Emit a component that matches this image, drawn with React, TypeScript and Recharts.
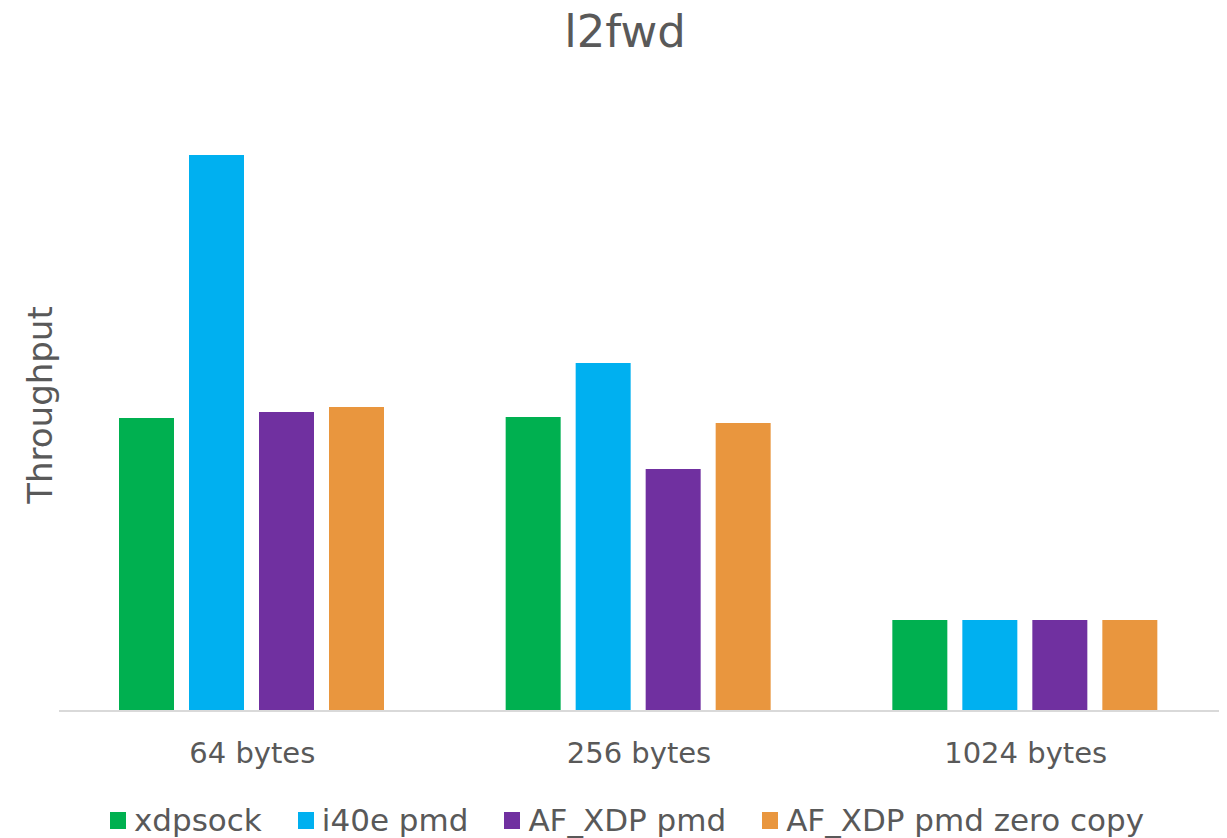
import { BarChart, Bar, XAxis, YAxis, Legend, Customized } from "recharts";

const categories = ["64 bytes", "256 bytes", "1024 bytes"];
const xdpsock = [293, 294, 91];
const i40ePmd = [556, 348, 91];
const afXdpPmd = [299, 242, 91];
const afXdpZeroCopy = [304, 288, 91];

const seriesNames = ["xdpsock", "i40e pmd", "AF_XDP pmd", "AF_XDP pmd zero copy"];
const seriesColors = ["#00B050", "#00B0F0", "#7030A0", "#E9963E"];

const data = categories.map((name, i) => ({
  name,
  s0: xdpsock[i],
  s1: i40ePmd[i],
  s2: afXdpPmd[i],
  s3: afXdpZeroCopy[i],
}));

const textColor = "#595959";

function LegendBox() {
  return (
    <div
      style={{
        display: "flex",
        alignItems: "center",
        gap: 36,
        fontSize: 31,
        color: textColor,
        paddingLeft: 110,
        whiteSpace: "nowrap",
      }}
    >
      {seriesNames.map((n, i) => (
        <div key={n} style={{ display: "flex", alignItems: "center" }}>
          <span
            style={{
              width: 16,
              height: 17,
              background: seriesColors[i],
              marginRight: 8,
              display: "inline-block",
            }}
          />
          <span>{n}</span>
        </div>
      ))}
    </div>
  );
}

function Labels() {
  return (
    <g>
      <text x={625} y={47} textAnchor="middle" fontSize={45} fill={textColor}>
        l2fwd
      </text>
      <text
        x={52}
        y={405}
        textAnchor="middle"
        fontSize={34}
        fill={textColor}
        transform="rotate(-90 52 405)"
      >
        Throughput
      </text>
    </g>
  );
}

export default function App() {
  return (
    <div
      style={{
        position: "absolute",
        left: 0,
        top: 0,
        width: 1227,
        height: 838,
        background: "#fff",
        fontFamily: "'DejaVu Sans', sans-serif",
      }}
    >
      <BarChart
        width={1227}
        height={838}
        data={data}
        margin={{ top: 111, right: 8, bottom: 67, left: 59 }}
        barCategoryGap={60}
        barGap={15}
      >
        <XAxis
          dataKey="name"
          height={60}
          tickLine={false}
          tickSize={0}
          tickMargin={31}
          axisLine={{ stroke: "#D9D9D9", strokeWidth: 2 }}
          tick={{ fontSize: 29, fill: textColor }}
        />
        <YAxis hide domain={[0, 600]} />
        <Legend
          layout="horizontal"
          verticalAlign="middle"
          align="center"
          wrapperStyle={{ top: 802, left: 0, width: 1227 }}
          content={<LegendBox />}
        />
        {seriesNames.map((n, i) => (
          <Bar
            key={n}
            dataKey={`s${i}`}
            name={n}
            fill={seriesColors[i]}
            isAnimationActive={false}
          />
        ))}
        <Customized component={<Labels />} />
      </BarChart>
    </div>
  );
}
